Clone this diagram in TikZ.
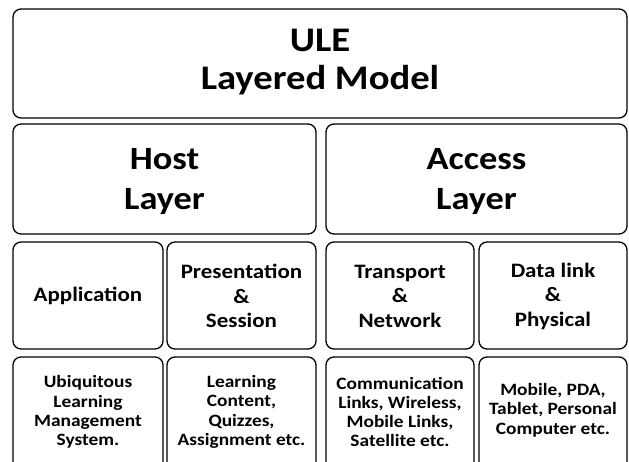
\documentclass[tikz,border=0pt]{standalone}
\usepackage{fontspec}
\setmainfont{Carlito}[FakeStretch=1.12]
\usetikzlibrary{fit}
\begin{document}
\begin{tikzpicture}[x=1pt,y=-1pt,
  cell/.style={draw=black, line width=1.3pt, rounded corners=8pt, inner sep=0pt},
  bigtxt/.style={font=\fontsize{34.5}{38}\selectfont\bfseries, align=center, inner sep=0pt},
  hosttxt/.style={font=\fontsize{32.5}{40}\selectfont\bfseries, align=center, inner sep=0pt},
  midtxt/.style={font=\fontsize{20.5}{24.5}\selectfont\bfseries, align=center, inner sep=0pt},
  smalltxt/.style={font=\fontsize{17.3}{19.3}\selectfont\bfseries, align=center, inner sep=0pt}]
\useasboundingbox (0,0) rectangle (629,462);
\clip (0,0) rectangle (629,462);

% top level
\node[cell, fit={(13,9) (627,118)}] (ule) {};
\node[bigtxt] (uletxt) at (320,62) {ULE\\Layered Model};

% host and access layers
\node[cell, fit={(13,124) (316,234)}] (host) {};
\node[cell, fit={(326,124) (627,234)}] (access) {};
\node[hosttxt] (hostlbl) at (164.5,182) {Host\\Layer};
\node[hosttxt] (accesslbl) at (476.5,182) {Access\\Layer};

% sub-layers
\node[cell, fit={(13,242) (163,349)}] (app) {};
\node[cell, fit={(167,242) (316,349)}] (pres) {};
\node[cell, fit={(326,242) (474,349)}] (trans) {};
\node[cell, fit={(479,242) (627,349)}] (data) {};
\node[midtxt] (apptxt) at (88,296) {Application};
\node[midtxt] (prestxt) at (241.5,296) {Presentation\\\&\\Session};
\node[midtxt] (transtxt) at (400,296) {Transport\\\&\\Network};
\node[midtxt] (datatxt) at (553,296) {Data link\\\&\\Physical};

% examples for each sub-layer
\node[cell, fit={(13,357) (163,480)}] (ex1) {};
\node[cell, fit={(167,357) (316,480)}] (ex2) {};
\node[cell, fit={(326,357) (474,480)}] (ex3) {};
\node[cell, fit={(479,357) (627,480)}] (ex4) {};
\node[smalltxt] (ex1txt) at (88,412) {Ubiquitous\\Learning\\Management\\System.};
\node[smalltxt] (ex2txt) at (241.5,412) {Learning\\Content,\\Quizzes,\\Assignment etc.};
\node[smalltxt] (ex3txt) at (400,412) {Communication\\Links, Wireless,\\Mobile Links,\\Satellite etc.};
\node[smalltxt] (ex4txt) at (553,410) {Mobile, PDA,\\Tablet, Personal\\Computer etc.};
\end{tikzpicture}
\end{document}
